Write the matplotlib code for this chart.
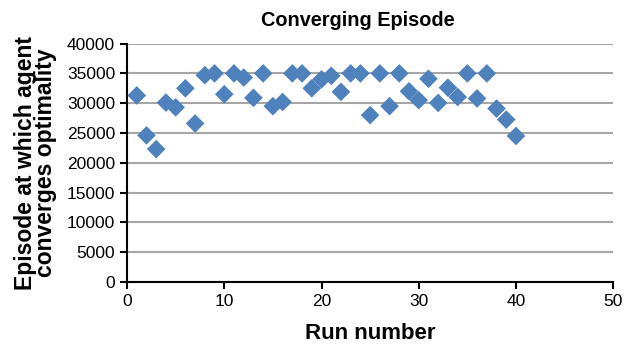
import matplotlib
matplotlib.use("Agg")
import matplotlib.pyplot as plt

plt.rcParams['font.family'] = ['Liberation Sans', 'DejaVu Sans']

runs = list(range(1, 41))
episodes = [31300, 24600, 22300, 30100, 29300, 32500, 26600, 34700, 35000, 31500,
            35000, 34300, 30900, 35000, 29500, 30200, 35000, 35000, 32500, 34000,
            34600, 31900, 35000, 35000, 28000, 35000, 29500, 35000, 32000, 30500,
            34100, 30050, 32600, 31050, 35000, 30800, 35000, 29100, 27250, 24500]
x_ticks = [0, 10, 20, 30, 40, 50]
y_ticks = list(range(0, 40001, 5000))

fig = plt.figure(figsize=(6.27, 3.46), dpi=100)
ax = fig.add_axes([0.2026, 0.185, 0.7754, 0.689])

ax.scatter(runs, episodes, marker='D', s=90, color='#4F81BD', edgecolors='none', zorder=3)

ax.set_xlim(0, 50)
ax.set_ylim(0, 40000)
ax.set_xticks(x_ticks)
ax.set_yticks(y_ticks)
ax.yaxis.grid(True, color='#a6a6a6', linewidth=1.5)
ax.set_axisbelow(True)
for s in ['top', 'right']:
    ax.spines[s].set_visible(False)
for s in ['left', 'bottom']:
    ax.spines[s].set_linewidth(1.5)
ax.tick_params(axis='both', direction='out', length=5, width=1.5, labelsize=12.5, colors='black')

ax.set_title('Converging Episode', fontsize=14.3, fontweight='bold', pad=13, x=0.475)
ax.set_xlabel('Run number', fontsize=16, fontweight='bold', labelpad=10)
ax.set_ylabel('Episode at which agent\nconverges optimality', fontsize=16.5, fontweight='bold',
              linespacing=0.85, labelpad=7)

fig.savefig('out.png', dpi=100)
